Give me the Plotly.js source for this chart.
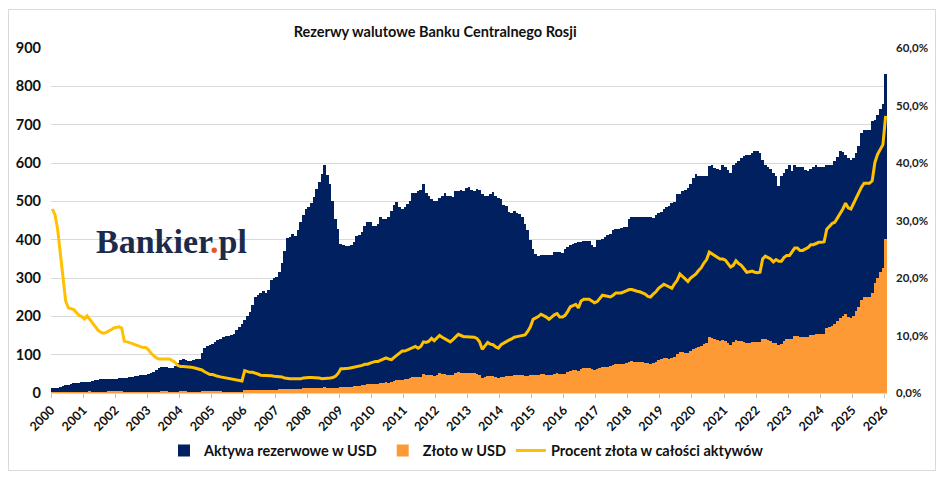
<!DOCTYPE html>
<html>
<head>
<meta charset="utf-8">
<script src="https://cdn.plot.ly/plotly-3.0.1.min.js"></script>
<style>
  body { margin: 0; background: #fff; }
  #wrap { position: relative; width: 948px; height: 479px; }
  #chart { width: 948px; height: 479px; }
  #frame { position: absolute; left: 8px; top: 9px; width: 926px; height: 460px;
           border: 1px solid #d9d9d9; pointer-events: none; }
</style>
</head>
<body>
<div id="wrap">
  <div id="chart"></div>
  <div id="frame"></div>
</div>
<script>
// monthly data, Jan 2000 - Jan 2026, one row per year
const startYear = 2000;

// Aktywa rezerwowe (mld USD)
const reservesUSD = [
  12, 12, 13, 15, 17, 20, 22, 24, 25, 26, 27, 28,               // 2000
  28, 29, 30, 31, 33, 35, 36, 37, 37, 37, 36, 36,               // 2001
  37, 38, 38, 39, 40, 42, 43, 44, 45, 46, 47, 48,               // 2002
  49, 52, 56, 61, 66, 68, 69, 67, 66, 66, 70, 78,               // 2003
  86, 88, 87, 84, 83, 85, 88, 90, 105, 118, 123, 125,           // 2004
  127, 132, 138, 142, 145, 150, 148, 152, 155, 165, 172, 181,   // 2005
  190, 200, 212, 230, 251, 255, 262, 265, 262, 268, 294, 300,   // 2006
  303, 316, 338, 370, 405, 406, 414, 410, 425, 447, 464, 479,   // 2007
  485, 495, 512, 532, 550, 572, 596, 570, 545, 500, 455, 428,   // 2008
  389, 386, 384, 384, 385, 395, 410, 412, 420, 436, 446, 446,   // 2009
  436, 436, 440, 459, 455, 454, 458, 475, 490, 497, 485, 480,   // 2010
  485, 493, 500, 523, 523, 527, 530, 545, 523, 515, 506, 500,   // 2011
  500, 510, 513, 523, 513, 513, 512, 527, 527, 530, 527, 536,   // 2012
  537, 530, 527, 532, 530, 519, 515, 513, 520, 525, 513, 510,   // 2013
  505, 490, 488, 472, 470, 475, 470, 467, 459, 440, 425, 400,   // 2014
  376, 363, 358, 359, 359, 359, 360, 360, 369, 369, 368, 366,   // 2015
  376, 380, 385, 390, 392, 395, 395, 397, 397, 397, 386, 381,   // 2016
  398, 400, 402, 408, 411, 415, 424, 428, 428, 430, 433, 433,   // 2017
  454, 459, 459, 459, 459, 459, 459, 459, 459, 457, 465, 470,   // 2018
  472, 480, 485, 488, 495, 497, 519, 520, 527, 530, 536, 545,   // 2019
  562, 571, 566, 566, 566, 566, 592, 594, 586, 584, 582, 594,   // 2020
  589, 582, 575, 596, 600, 605, 612, 618, 620, 622, 627, 631,   // 2021
  631, 627, 609, 595, 590, 584, 575, 566, 540, 565, 575, 584,   // 2022
  596, 579, 596, 589, 589, 589, 582, 579, 584, 590, 596, 589,   // 2023
  589, 589, 596, 596, 596, 605, 615, 631, 628, 622, 612, 609,   // 2024
  612, 625, 644, 678, 687, 687, 687, 709, 713, 726, 740, 755,   // 2025
  833                                                           // 2026
];

// Złoto (mld USD)
const goldUSD = [
  3.8, 3.7, 3.6, 3.6, 3.5, 3.2, 3.3, 3.5, 3.6, 3.6, 3.6, 3.7,
  3.6, 3.9, 4.0, 3.8, 3.8, 3.9, 3.8, 3.8, 3.9, 4.0, 4.0, 4.1,
  4.2, 4.4, 4.3, 3.5, 3.6, 3.7, 3.7, 3.7, 3.7, 3.7, 3.9, 3.9,
  3.7, 3.7, 3.8, 3.9, 3.9, 4.0, 4.1, 4.0, 3.9, 3.7, 3.7, 3.7,
  4.0, 4.0, 4.0, 3.9, 3.7, 3.7, 3.8, 3.8, 4.2, 4.4, 4.3, 4.0,
  4.1, 4.0, 4.0, 4.0, 3.9, 3.9, 3.7, 3.8, 3.7, 3.8, 3.8, 3.8,
  7.4, 7.4, 7.6, 8.3, 8.8, 8.4, 8.1, 8.2, 7.9, 8.0, 8.8, 8.7,
  8.8, 9.2, 9.5, 9.6, 10.1, 10.1, 10.4, 10.4, 10.2, 11.0, 12.1, 12.8,
  13.1, 13.4, 13.8, 13.8, 14.3, 14.3, 14.9, 14.2, 14.2, 13.5, 13.2, 13.7,
  16.3, 16.2, 16.1, 16.5, 16.9, 17.8, 18.5, 19.0, 20.2, 21.8, 22.3, 23.2,
  23.5, 24.0, 24.2, 26.2, 27.3, 27.7, 27.0, 27.6, 30.4, 32.8, 34.0, 35.0,
  35.4, 37.0, 38.0, 40.8, 42.4, 41.1, 42.9, 48.5, 46.0, 46.4, 48.1, 45.5,
  47.5, 51.0, 49.8, 49.2, 46.7, 45.7, 47.6, 51.1, 53.8, 53.0, 51.6, 52.5,
  52.6, 51.9, 51.1, 50.5, 47.2, 39.4, 42.7, 45.1, 44.2, 44.1, 41.0, 39.8,
  42.4, 42.6, 43.4, 43.4, 44.2, 46.1, 46.1, 46.2, 45.9, 44.4, 45.5, 46.0,
  48.1, 47.2, 47.6, 49.2, 48.5, 47.4, 46.1, 47.5, 50.2, 50.9, 48.6, 48.3,
  50.8, 54.0, 57.8, 59.3, 60.4, 58.5, 63.2, 64.7, 64.7, 64.7, 61.8, 59.8,
  63.3, 66.0, 68.3, 69.0, 69.1, 69.3, 72.1, 74.5, 74.5, 74.8, 76.2, 77.1,
  81.7, 82.6, 81.7, 81.2, 80.8, 79.9, 78.9, 77.1, 76.7, 78.6, 81.8, 85.5,
  87.8, 90.7, 90.7, 89.8, 90.1, 94.4, 101.7, 107.6, 107.0, 104.9, 104.0, 109.0,
  114, 118, 121, 123, 128, 131, 145, 144, 140, 137, 136, 138,
  136, 131, 126, 132, 138, 136, 136, 133, 130, 131, 133, 132,
  132, 132, 142, 141, 139, 136, 131, 131, 124, 129, 136, 140,
  142, 142, 150, 148, 146, 146, 145, 147, 151, 152, 155, 154,
  154, 155, 170, 173, 176, 180, 187, 196, 201, 205, 197, 195,
  202, 213, 224, 243, 251, 251, 251, 262, 286, 301, 315, 326,
  402
];

// Procent złota w całości aktywów (%)
const goldShare = [
  32.0, 31.0, 28.5, 24.5, 20.5, 16.0, 14.8, 14.7, 14.5, 14.0, 13.5, 13.3,
  12.9, 13.4, 12.8, 12.2, 11.5, 11.0, 10.6, 10.4, 10.5, 10.7, 11.0, 11.3,
  11.4, 11.5, 11.3, 9.0, 8.9, 8.8, 8.6, 8.4, 8.2, 8.0, 7.9, 7.9,
  7.5, 6.9, 6.5, 6.1, 5.9, 5.9, 5.9, 6.0, 5.9, 5.6, 5.3, 4.8,
  4.6, 4.6, 4.6, 4.6, 4.5, 4.4, 4.3, 4.2, 4.0, 3.7, 3.5, 3.2,
  3.2, 3.0, 2.9, 2.8, 2.7, 2.6, 2.5, 2.5, 2.4, 2.3, 2.2, 2.1,
  3.9, 3.7, 3.6, 3.6, 3.5, 3.3, 3.1, 3.1, 3.0, 3.0, 3.0, 2.9,
  2.9, 2.9, 2.8, 2.6, 2.5, 2.5, 2.5, 2.5, 2.4, 2.5, 2.6, 2.7,
  2.7, 2.7, 2.7, 2.6, 2.6, 2.5, 2.5, 2.5, 2.6, 2.7, 2.9, 3.4,
  4.2, 4.2, 4.2, 4.3, 4.4, 4.5, 4.5, 4.6, 4.8, 5.0, 5.0, 5.2,
  5.4, 5.5, 5.5, 5.7, 6.0, 6.1, 5.9, 5.8, 6.2, 6.6, 7.0, 7.3,
  7.3, 7.5, 7.6, 7.8, 8.1, 7.8, 8.1, 8.9, 8.8, 9.0, 9.5, 9.1,
  9.5, 10.0, 9.7, 9.4, 9.1, 8.9, 9.3, 9.7, 10.2, 10.0, 9.8, 9.8,
  9.8, 9.8, 9.7, 9.5, 8.9, 7.6, 8.3, 8.8, 8.5, 8.4, 8.0, 7.8,
  8.4, 8.7, 8.9, 9.2, 9.4, 9.7, 9.8, 9.9, 10.0, 10.1, 10.7, 11.5,
  12.8, 13.0, 13.3, 13.7, 13.5, 13.2, 12.8, 13.2, 13.6, 13.8, 13.2, 13.2,
  13.5, 14.2, 15.0, 15.2, 15.4, 14.8, 16.0, 16.3, 16.3, 16.3, 16.0, 15.7,
  15.9, 16.5, 17.0, 16.9, 16.8, 16.7, 17.0, 17.4, 17.4, 17.4, 17.6, 17.8,
  18.0, 18.0, 17.8, 17.7, 17.6, 17.4, 17.2, 16.8, 16.7, 17.2, 17.6, 18.2,
  18.6, 18.9, 18.7, 18.4, 18.2, 19.0, 19.6, 20.7, 20.3, 19.8, 19.4, 20.0,
  20.3, 20.7, 21.3, 21.8, 22.6, 23.2, 24.5, 24.2, 23.9, 23.5, 23.3, 23.3,
  23.1, 22.5, 21.9, 22.2, 23.0, 22.5, 22.2, 21.6, 21.0, 21.1, 21.2, 21.0,
  20.9, 21.0, 23.3, 23.8, 23.6, 23.3, 22.8, 23.2, 22.9, 22.9, 23.6, 23.9,
  23.9, 24.5, 25.2, 25.2, 24.8, 24.8, 25.0, 25.3, 25.8, 25.8, 26.0, 26.2,
  26.2, 26.3, 28.5, 29.1, 29.5, 29.7, 30.4, 31.1, 32.0, 33.0, 32.2, 32.0,
  33.0, 34.0, 34.8, 35.8, 36.5, 36.5, 36.5, 36.9, 40.1, 41.5, 42.5, 43.2,
  48.2
];

const tickYears = [2000, 2001, 2002, 2003, 2004, 2005, 2006, 2007, 2008, 2009,
  2010, 2011, 2012, 2013, 2014, 2015, 2016, 2017, 2018, 2019, 2020, 2021,
  2022, 2023, 2024, 2025, 2026];

// month dates for the category axis
const months = reservesUSD.map((_, i) => {
  const y = startYear + Math.floor(i / 12);
  const m = (i % 12) + 1;
  return y + '-' + String(m).padStart(2, '0') + '-01';
});

const FONT = 'Lato, "Open Sans", sans-serif';
const NAVY = '#00205f';
const ORANGE = '#fd9a36';
const YELLOW = '#ffc000';
const monthMs = 31 * 24 * 3600 * 1000;

const traces = [
  {
    type: 'bar', name: 'Aktywa rezerwowe w USD',
    x: months, y: reservesUSD,
    xperiod: 'M1', xperiodalignment: 'middle', width: monthMs,
    marker: { color: NAVY, line: { width: 0 } },
    hoverinfo: 'skip'
  },
  {
    type: 'bar', name: 'Złoto w USD',
    x: months, y: goldUSD,
    xperiod: 'M1', xperiodalignment: 'middle', width: monthMs,
    marker: { color: ORANGE, line: { width: 0 } },
    hoverinfo: 'skip'
  },
  {
    type: 'scatter', mode: 'lines', name: 'Procent złota w całości aktywów',
    x: months, y: goldShare, yaxis: 'y2',
    xperiod: 'M1', xperiodalignment: 'middle',
    line: { color: YELLOW, width: 3 },
    hoverinfo: 'skip'
  }
];

const layout = {
  width: 948, height: 479,
  margin: { l: 51, r: 61, t: 48, b: 84 },
  paper_bgcolor: '#fff', plot_bgcolor: '#fff',
  separators: ', ',
  barmode: 'overlay', bargap: 0,
  font: { family: FONT, color: '#1a1a1a' },
  title: {
    text: 'Rezerwy walutowe Banku Centralnego Rosji',
    x: 0.459, xanchor: 'center', y: 0.933, yanchor: 'middle',
    font: { family: FONT, size: 14.5, weight: 'bold', color: '#111' }
  },
  xaxis: {
    type: 'date',
    range: ['2000-01-01', '2026-02-01'],
    tickvals: tickYears.map(y => y + '-01-01'),
    ticktext: tickYears.map(String),
    tickangle: -45,
    ticks: 'outside', ticklen: 4, tickcolor: '#bfbfbf',
    showgrid: false, showline: true, linecolor: '#d9d9d9',
    tickfont: { family: FONT, size: 12.5, weight: 'bold', color: '#111' },
    automargin: false, fixedrange: true
  },
  yaxis: {
    range: [0, 900], dtick: 100,
    gridcolor: '#d9d9d9', zeroline: false,
    ticks: '', ticklabelstandoff: 9,
    tickfont: { family: FONT, size: 14.5, weight: 'bold', color: '#111' },
    automargin: false, fixedrange: true
  },
  yaxis2: {
    overlaying: 'y', side: 'right',
    range: [0, 60], dtick: 10,
    tickformat: '.1f', ticksuffix: '%',
    showgrid: false, zeroline: false,
    ticks: '', ticklabelstandoff: 8,
    tickfont: { family: FONT, size: 11.5, weight: 'bold', color: '#222' },
    automargin: false, fixedrange: true
  },
  showlegend: true,
  legend: {
    orientation: 'h', x: 0.497, xanchor: 'center', y: -0.167, yanchor: 'middle',
    font: { family: FONT, size: 14.5, weight: 'bold', color: '#111' },
    traceorder: 'normal', itemwidth: 30
  },
  annotations: [
    {
      xref: 'paper', yref: 'paper', x: 0.1447, y: 0.44,
      xanchor: 'center', yanchor: 'middle', showarrow: false,
      text: 'Bankier<span style="color:#e8542b">.</span>pl',
      font: { family: '"Liberation Serif", "DejaVu Serif", serif', size: 34, weight: 'bold', color: '#1b2b4b' }
    }
  ]
};

Plotly.newPlot('chart', traces, layout, { displayModeBar: false, staticPlot: true });
</script>
</body>
</html>
